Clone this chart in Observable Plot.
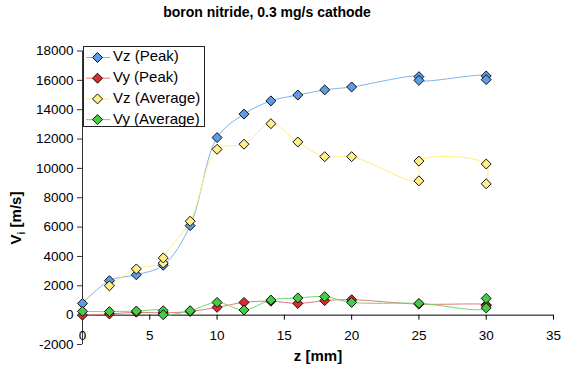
<!DOCTYPE html>
<html><head><meta charset="utf-8">
<script src="https://cdn.jsdelivr.net/npm/d3@7"></script>
<script src="https://cdn.jsdelivr.net/npm/@observablehq/plot@0.6"></script>
<style>body{margin:0;background:#fff}</style>
</head><body><div id="chart"></div>
<script>
const title = "boron nitride, 0.3 mg/s cathode";
const xLabel = "z [mm]";
const seriesNames = ["Vz (Peak)", "Vy (Peak)", "Vz (Average)", "Vy (Average)"];
const lineColors = ["#7fb1f0", "#e67878", "#fff07a", "#66dd66"];
const markerColors = ["#5b9be8", "#dd2a2a", "#ffee88", "#44cc44"];

const zVzPeak = [0, 2, 4, 6, 8, 10, 12, 14, 16, 18, 20, 25, 25, 30, 30];
const vzPeak  = [800, 2350, 2750, 3400, 6100, 12100, 13700, 14600, 15000, 15350, 15550, 16250, 16000, 16300, 16050];
const zVyPeak = [0, 2, 4, 6, 8, 10, 12, 14, 16, 18, 20, 25, 30, 30];
const vyPeak  = [0, 80, 200, 150, 250, 530, 870, 950, 800, 990, 1050, 750, 700, 650];
const zVzAvg  = [2, 4, 6, 6, 8, 10, 12, 14, 16, 18, 20, 25, 25, 30, 30];
const vzAvg   = [2000, 3150, 3550, 3900, 6400, 11300, 11650, 13050, 11800, 10800, 10800, 9150, 10500, 10300, 8950];
const zVyAvg  = [0, 2, 4, 6, 6, 8, 10, 12, 14, 16, 18, 20, 25, 30, 30];
const vyAvg   = [260, 240, 280, 300, 30, 300, 870, 350, 1030, 1170, 1260, 870, 800, 490, 1140];

const xTicks = [0, 5, 10, 15, 20, 25, 30, 35];
const yTicks = [-2000, 0, 2000, 4000, 6000, 8000, 10000, 12000, 14000, 16000, 18000];

const seriesZ = [zVzPeak, zVyPeak, zVzAvg, zVyAvg];
const seriesV = [vzPeak, vyPeak, vzAvg, vyAvg];
const series = seriesNames.map((name, k) => ({
  name, line: lineColors[k], marker: markerColors[k],
  data: seriesZ[k].map((z, i) => ({z, v: seriesV[k][i]}))
}));

const FONT = "'Liberation Sans', Arial, sans-serif";

const chart = Plot.plot({
  width: 564, height: 375,
  marginLeft: 82, marginRight: 11, marginTop: 50.5, marginBottom: 31,
  style: {fontFamily: FONT, color: "black", background: "white", overflow: "visible"},
  x: {domain: [0, 35], axis: null},
  y: {domain: [-2000, 18000], axis: null},
  marks: [
    Plot.axisY(yTicks, {tickSize: 5, tickPadding: 4, fontSize: 13.5, tickFormat: d => String(d), label: null, stroke: "#333"}),
    Plot.ruleX([0], {stroke: "#333"}),
    Plot.ruleY([0], {stroke: "black"}),
    Plot.ruleX(xTicks, {x: d => d, y1: 0, y2: 0, insetBottom: -5, stroke: "black"}),
    Plot.text(xTicks, {x: d => d, y: 0, dy: 21, text: d => String(d), fontSize: 13.5}),
    ...series.map(s => Plot.line(s.data, {x: "z", y: "v", stroke: s.line, strokeWidth: 1, curve: "catmull-rom"})),
    ...series.map(s => Plot.dot(s.data, {x: "z", y: "v", symbol: "diamond2", r: 4.5, fill: s.marker, stroke: "#111", strokeWidth: 1}))
  ]
});
document.getElementById("chart").appendChild(chart);

const svg = d3.select(chart);
svg.append("text").attr("x", 267).attr("y", 13).attr("text-anchor", "middle").attr("dominant-baseline", "middle")
  .style("font", `bold 14px ${FONT}`).text(title);
svg.append("text").attr("x", 318).attr("y", 357).attr("text-anchor", "middle").attr("dominant-baseline", "middle")
  .style("font", `bold 15px ${FONT}`).text(xLabel);
const yl = svg.append("text").attr("transform", "translate(21,218) rotate(-90)").attr("text-anchor", "middle")
  .style("font", `bold 15px ${FONT}`);
yl.append("tspan").text("V");
yl.append("tspan").attr("dy", 4).style("font-size", "10px").text("i");
yl.append("tspan").attr("dy", -4).text(" [m/s]");

const lg = svg.append("g");
lg.append("rect").attr("x", 83.5).attr("y", 46.5).attr("width", 121).attr("height", 80)
  .attr("fill", "white").attr("stroke", "#222");
const sym = d3.symbol(d3.symbolDiamond2, Math.PI * 4.5 * 4.5);
series.forEach((s, k) => {
  const cy = 57.5 + k * 20.7;
  lg.append("line").attr("x1", 86).attr("x2", 110).attr("y1", cy).attr("y2", cy).attr("stroke", s.line);
  lg.append("path").attr("d", sym()).attr("transform", `translate(97.5,${cy})`).attr("fill", s.marker).attr("stroke", "#111");
  lg.append("text").attr("x", 113).attr("y", cy).attr("dominant-baseline", "middle").attr("text-anchor", "start")
    .style("font", `15px ${FONT}`).text(s.name);
});
</script></body></html>
